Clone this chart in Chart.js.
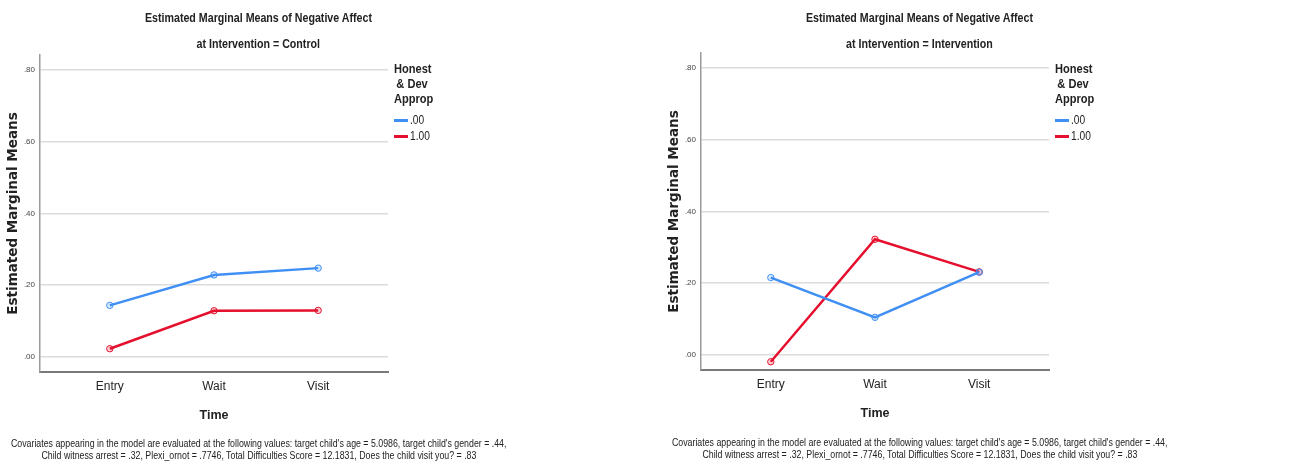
<!DOCTYPE html>
<html>
<head>
<meta charset="utf-8">
<script src="https://cdn.jsdelivr.net/npm/chart.js@4"></script>
<style>
    body { margin: 0; background: #fff; width: 1297px; height: 466px; overflow: hidden; position: relative;
           font-family: "Liberation Sans", Arial, sans-serif; color: #222; }
    .panel { position: absolute; top: 0; width: 517px; height: 466px; }
    .panel canvas { position: absolute; left: 0; top: 0; }
    /* condensed look: no narrow face installed, so squeeze horizontally */
    .line { position: absolute; left: 0; width: 517px; display: flex; flex-direction: column; align-items: center; }
    .line span { display: block; white-space: nowrap; transform: scaleX(0.82); transform-origin: center; }
    .title span { font-weight: bold; font-size: 13px; line-height: 16px; }
    .foot span { font-size: 11px; line-height: 12px; transform: scaleX(0.8); }
    .legend { position: absolute; left: 394px; top: 61px; width: 40px; }
    .legend .head { font-weight: bold; font-size: 13.5px; line-height: 15px; text-align: center; white-space: nowrap;
                    transform: scaleX(0.82); transform-origin: left center; width: 44px; }
    .legend .items { margin-top: 6px; }
    .legend .item { display: flex; align-items: center; font-size: 12px; line-height: 16px; }
    .legend .item span.t { display: inline-block; transform: scaleX(0.85); transform-origin: left center; }
    .legend .sw { width: 14px; height: 3px; margin-right: 2px; }
</style>
</head>
<body>
<div class="panel" id="panelA" style="left:0">
    <canvas id="chartA" width="517" height="466"></canvas>
    <div class="line title" style="top:10px"><span>Estimated Marginal Means of Negative Affect</span></div>
    <div class="line title" style="top:36px"><span>at Intervention = Control</span></div>
    <div class="legend" id="legendA"></div>
    <div class="line foot" style="top:437px"><span>Covariates appearing in the model are evaluated at the following values: target child's age = 5.0986, target child's gender = .44,</span><span>Child witness arrest = .32, Plexi_ornot = .7746, Total Difficulties Score = 12.1831, Does the child visit you? = .83</span></div>
</div>
<div class="panel" id="panelB" style="left:661px">
    <canvas id="chartB" width="517" height="466" style="top:-2px"></canvas>
    <div class="line title" style="top:10px"><span>Estimated Marginal Means of Negative Affect</span></div>
    <div class="line title" style="top:36px"><span>at Intervention = Intervention</span></div>
    <div class="legend" id="legendB"></div>
    <div class="line foot" style="top:436px"><span>Covariates appearing in the model are evaluated at the following values: target child's age = 5.0986, target child's gender = .44,</span><span>Child witness arrest = .32, Plexi_ornot = .7746, Total Difficulties Score = 12.1831, Does the child visit you? = .83</span></div>
</div>
<script>
// ── Data ───────────────────────────────────────────────────
const categories = ['Entry', 'Wait', 'Visit'];
const honest0Control      = [0.143, 0.228, 0.247];
const honest1Control      = [0.022, 0.128, 0.129];
const honest0Intervention = [0.215, 0.104, 0.230];
const honest1Intervention = [-0.020, 0.322, 0.231];
const yTicks      = [0, 0.2, 0.4, 0.6, 0.8];
const yTickLabels = ['.00', '.20', '.40', '.60', '.80'];
const groupLabels = ['.00', '1.00'];
const groupColors = ['#3f8ff5', '#e5102d'];
const groupFills  = ['rgba(63,143,245,0.2)', 'rgba(229,16,45,0.2)'];

const SANS = '"Liberation Sans", Arial, sans-serif';

// ── Legend ─────────────────────────────────────────────────
function drawLegend(id) {
    document.getElementById(id).innerHTML =
        `<div class="head">Honest<br>&amp; Dev<br>Approp</div><div class="items">` +
        groupLabels.map((l, i) => `
            <div class="item"><span class="sw" style="background:${groupColors[i]}"></span><span class="t">${l}</span></div>
        `).join('') + `</div>`;
}

// ── Chart ──────────────────────────────────────────────────
function drawPanel(canvasId, s0, s1) {
    const mk = (vals, i) => ({
        label: groupLabels[i],
        data: vals.map((v, k) => ({ x: k, y: v })),
        borderColor: groupColors[i],
        backgroundColor: groupColors[i],
        borderWidth: 2.5,
        pointRadius: 3.2,
        pointBorderWidth: 1,
        pointBorderColor: groupColors[i],
        pointBackgroundColor: groupFills[i],
        tension: 0,
        clip: false
    });

    return new Chart(document.getElementById(canvasId), {
        type: 'line',
        data: { datasets: [mk(s0, 0), mk(s1, 1)] },
        options: {
            responsive: false,
            animation: false,
            layout: { padding: { top: 55, right: 129, left: 0, bottom: 37.6 } },
            plugins: { legend: { display: false }, tooltip: { enabled: false } },
            scales: {
                x: {
                    type: 'linear',
                    min: -0.67, max: 2.67,
                    afterBuildTicks: s => { s.ticks = categories.map((c, i) => ({ value: i })); },
                    afterFit: s => { s.height = 56.4; },
                    ticks: {
                        callback: v => categories[v],
                        font: { family: SANS, size: 12 },
                        color: '#222',
                        padding: 7,
                        maxRotation: 0
                    },
                    grid: { display: false, drawTicks: false },
                    border: { display: true, color: '#7a7a7a', width: 2 },
                    title: {
                        display: true, text: 'Time',
                        font: { family: SANS, size: 12.5, weight: 'bold' },
                        color: '#222',
                        padding: { top: 5, bottom: 5 }
                    }
                },
                y: {
                    min: -0.043, max: 0.842,
                    afterBuildTicks: s => { s.ticks = yTicks.map(v => ({ value: v })); },
                    afterFit: s => { s.width = 40; },
                    ticks: {
                        callback: (v, i) => yTickLabels[i],
                        font: { family: SANS, size: 8 },
                        color: '#444',
                        padding: 5
                    },
                    grid: { color: '#dcdcdc', lineWidth: 1.5, drawTicks: false },
                    border: { display: true, color: '#9a9a9a', width: 1.5 },
                    title: {
                        display: true, text: 'Estimated Marginal Means',
                        font: { family: '"DejaVu Sans", sans-serif', size: 13.5, weight: 'bold' },
                        color: '#222',
                        padding: { top: 5, bottom: 5 }
                    }
                }
            }
        }
    });
}

drawLegend('legendA');
drawLegend('legendB');
drawPanel('chartA', honest0Control, honest1Control);
drawPanel('chartB', honest0Intervention, honest1Intervention);
</script>
</body>
</html>
